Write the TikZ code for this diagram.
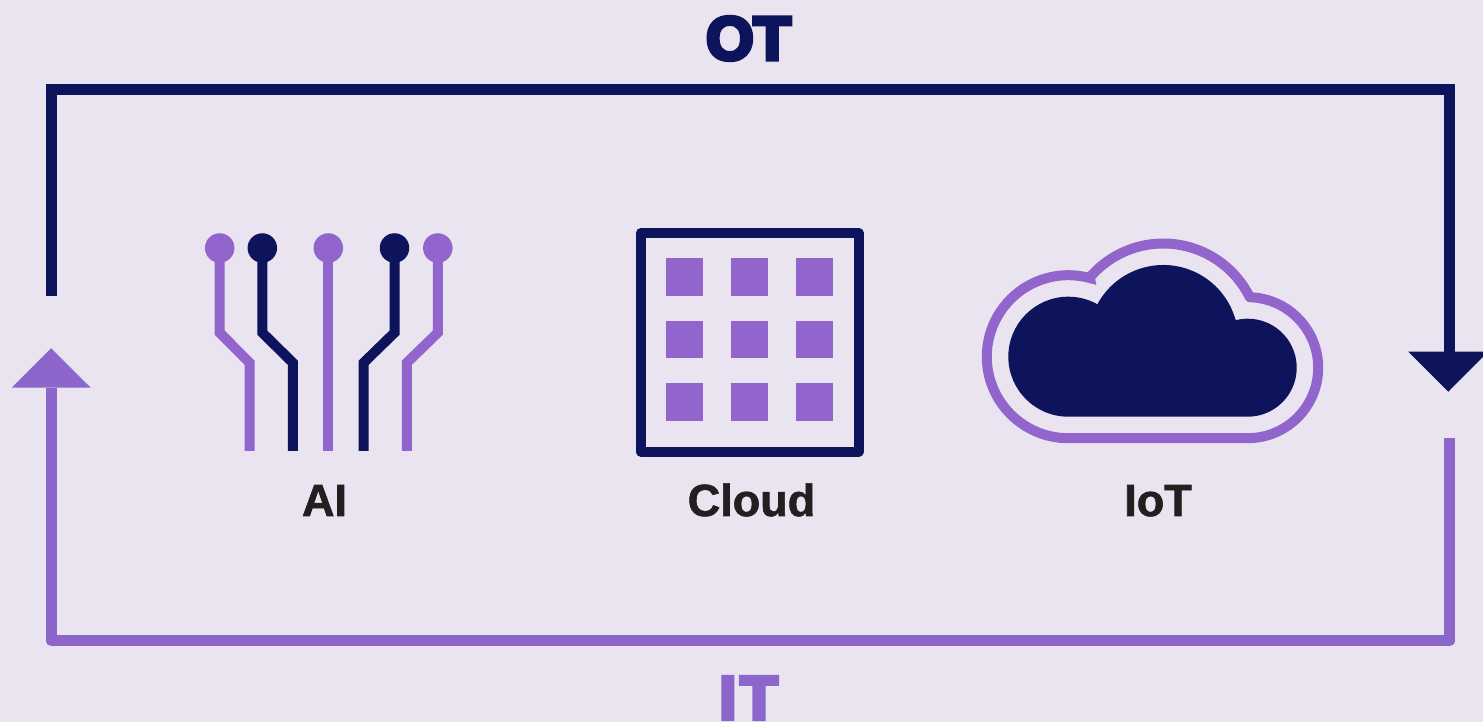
\documentclass[tikz,border=0pt]{standalone}
\usepackage{fontspec}
\setmainfont{Liberation Sans}
\newfontfamily\heavyfont[FakeBold=7]{Liberation Sans Bold}
\newfontfamily\labelfont[FakeBold=1.5]{Liberation Sans Bold}
\definecolor{bgc}{HTML}{E9E4EF}
\definecolor{navy}{HTML}{0E145C}
\definecolor{violet}{HTML}{9265CC}
\definecolor{loopviolet}{HTML}{8D66CB}
\definecolor{ink}{HTML}{231F20}
\begin{document}
\begin{tikzpicture}[x=1pt,y=1pt,
  loopline/.style={line width=11pt,line join=miter},
  trace/.style={line width=10pt,line join=miter},
  pad/.style={circle,inner sep=0pt,minimum size=29.5pt},
  cell/.style={fill=violet},
  biglabel/.style={font=\fontsize{61}{61}\heavyfont,anchor=base,inner sep=0pt},
  caption/.style={font=\fontsize{45}{45}\labelfont,text=ink,anchor=base,inner sep=0pt}]
\useasboundingbox (0,0) rectangle (1483,722);
\fill[bgc] (0,0) rectangle (1483,722);
% loop coordinates
\coordinate (otstart) at (51.5,426);
\coordinate (otA) at (51.5,632);
\coordinate (otB) at (1449.5,632);
\coordinate (otend) at (1449.5,370);
\coordinate (itstart) at (1449.5,284);
\coordinate (itA) at (1449.5,81);
\coordinate (itB) at (51.5,81);
\coordinate (itend) at (51.5,334);
\draw[loopline,navy] (otstart) -- (otA) -- (otB) -- (otend);
\draw[loopline,loopviolet,line join=round] (itstart) -- (itA) -- (itB) -- (itend);
\fill[navy] (1408.3,370.3) -- (1488,370.3) -- (1448.3,330.3) -- cycle;
\fill[loopviolet] (11.7,334.3) -- (90.7,334.3) -- (51.2,373.7) -- cycle;
% labels
\node[biglabel,text=navy] (ot) at (748.5,662.5) {OT};
\node[biglabel,text=loopviolet] (it) at (748.5,3) {I\kern4pt T};
\node[caption] (ai) at (324.5,206) {AI};
\node[caption] (cloudtext) at (751.5,206) {Cloud};
\node[caption] (iot) at (1158,206) {IoT};
% circuit icon
\node[pad,fill=violet] (p1) at (219.7,474) {};
\node[pad,fill=navy] (p2) at (262.3,474) {};
\node[pad,fill=violet] (p3) at (328.3,474) {};
\node[pad,fill=navy] (p4) at (394.5,474) {};
\node[pad,fill=violet] (p5) at (437.8,474) {};
\coordinate (e1) at (249.5,271);
\coordinate (e2) at (292.8,271);
\coordinate (e3) at (328.3,271);
\coordinate (e4) at (363.7,271);
\coordinate (e5) at (406.9,271);
\draw[trace,violet] (219.7,474) -- (219.7,389.3) -- (249.5,359.3) -- (e1);
\draw[trace,navy] (262.3,474) -- (262.3,389.3) -- (292.8,359.3) -- (e2);
\draw[trace,violet] (p3.center) -- (e3);
\draw[trace,navy] (394.5,474) -- (394.5,389.3) -- (363.7,359.3) -- (e4);
\draw[trace,violet] (437.8,474) -- (437.8,389.3) -- (406.9,359.3) -- (e5);
% chip icon
\draw[navy,line width=10pt,line join=round] (640.7,270.3) rectangle (858.7,489);
\foreach \sx in {666,731,796}
  \foreach \sy in {426.3,363.7,301.3}
    \fill[cell] (\sx,\sy) rectangle ++(37,37.5);
% cloud icon
\fill[navy] (1068.3,305.3) arc[start angle=270,end angle=60.3,radius=60]
  -- ([shift={(1163.3,382)}]151:75) arc[start angle=151,end angle=15.9,radius=75]
  -- ([shift={(1247.7,354.3)}]103.6:49) arc[start angle=103.6,end angle=-90,radius=49] -- cycle;
\draw[violet,line width=10pt,line join=miter] (1068.3,283.8) arc[start angle=270,end angle=74.6,radius=81.5]
  -- ([shift={(1163.3,382)}]139.6:96.5) arc[start angle=139.6,end angle=26.5,radius=96.5]
  -- ([shift={(1247.7,354.3)}]88:70.5) arc[start angle=88,end angle=-90,radius=70.5] -- cycle;
\end{tikzpicture}
\end{document}
